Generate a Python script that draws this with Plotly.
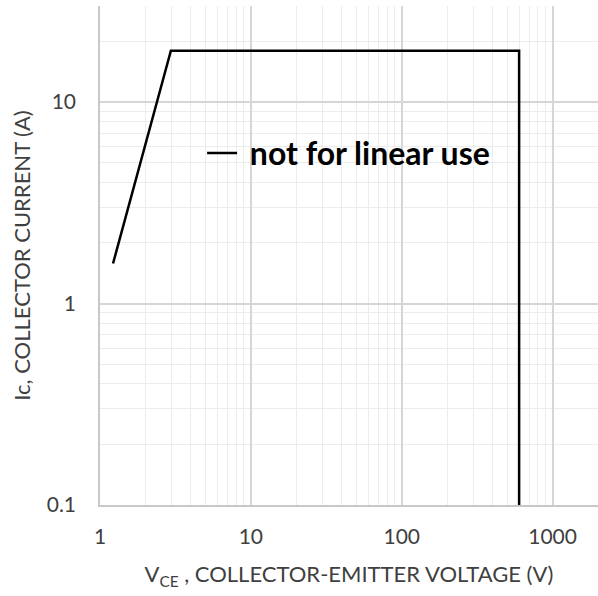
import plotly.graph_objects as go

# Safe operating area boundary (V_CE in volts, I_C in amps)
vce = [1.22, 2.95, 600, 600]
ic = [1.58, 18, 18, 0.1]
series_name = "\u00a0not for linear use"

x_ticks = [1, 10, 100, 1000]
x_tick_labels = ["1", "10", "100", "1000"]
y_ticks = [0.1, 1, 10]
y_tick_labels = ["0.1", "1", "10"]

FONT = "Lato, 'Open Sans', sans-serif"
TXT = "#404040"

fig = go.Figure()
fig.add_trace(go.Scatter(
    x=vce, y=ic, mode="lines", name=series_name,
    line=dict(color="black", width=2.5),
    showlegend=True,
))

fig.update_layout(
    width=598, height=596,
    margin=dict(l=100, r=0, t=6, b=91),
    paper_bgcolor="white", plot_bgcolor="white",
    font=dict(family=FONT, color=TXT, size=21),
    legend=dict(
        x=0.205, y=0.705, xanchor="left", yanchor="middle",
        bgcolor="rgba(0,0,0,0)", itemwidth=30,
        font=dict(family="Lato, sans-serif", size=32, color="black", weight="bold"),
    ),
    xaxis=dict(
        type="log", range=[0, 3.301],
        tickvals=x_ticks, ticktext=x_tick_labels,
        showline=True, linecolor="#c8c8c8", linewidth=1.5,
        showgrid=True, gridcolor="#d6d6d6", gridwidth=1.5,
        minor=dict(showgrid=True, gridcolor="#ececec", gridwidth=1, dtick="D1"),
        ticks="", ticklen=0, zeroline=False,
        title=dict(text="V<sub>CE</sub> , COLLECTOR-EMITTER VOLTAGE (V)",
                   font=dict(size=22, color=TXT), standoff=20),
        tickfont=dict(size=21, color=TXT),
        ticklabelstandoff=12,
    ),
    yaxis=dict(
        type="log", range=[-1, 1.477],
        tickvals=y_ticks, ticktext=y_tick_labels,
        showline=True, linecolor="#c8c8c8", linewidth=1.5,
        showgrid=True, gridcolor="#d6d6d6", gridwidth=1.5,
        minor=dict(showgrid=True, gridcolor="#ececec", gridwidth=1, dtick="D1"),
        ticks="", ticklen=0, zeroline=False,
        title=dict(text="Ic, COLLECTOR CURRENT (A)",
                   font=dict(size=22, color=TXT), standoff=10),
        tickfont=dict(size=21, color=TXT),
        ticklabelstandoff=18,
    ),
)

fig.write_html("out.html")
